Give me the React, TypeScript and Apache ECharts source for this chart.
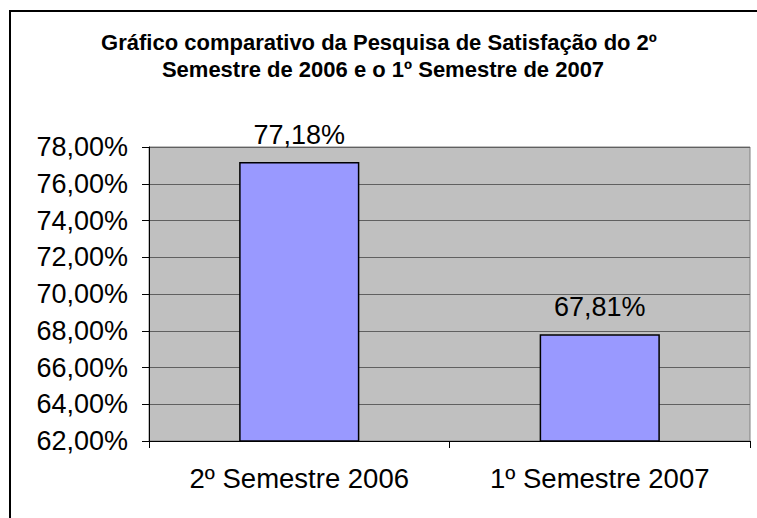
import React, { useEffect, useRef } from "react";
import * as echarts from "echarts";

const categories = ["2º Semestre 2006", "1º Semestre 2007"];
const values = [77.18, 67.81];
const titleLines = [
  "Gráfico comparativo da Pesquisa de Satisfação do 2º",
  "Semestre de 2006 e o 1º Semestre de 2007",
];
const yMin = 62;
const yMax = 78;
const yStep = 2;

const fmt = (v: number) => v.toFixed(2).replace(".", ",") + "%";

export default function App() {
  const ref = useRef<HTMLDivElement>(null);
  useEffect(() => {
    if (!ref.current) return;
    const chart = echarts.init(ref.current, undefined, { renderer: "svg" });
    const font = "'Liberation Sans', Arial, sans-serif";
    chart.setOption({
      animation: false,
      backgroundColor: "#ffffff",
      title: [
        {
          text: titleLines[0],
          left: 379,
          top: 29,
          padding: 0,
          textAlign: "center",
          textStyle: { fontFamily: font, fontWeight: "bold", fontSize: 22, lineHeight: 26, color: "#000" },
        },
        {
          text: titleLines[1],
          left: 383,
          top: 56,
          padding: 0,
          textAlign: "center",
          textStyle: { fontFamily: font, fontWeight: "bold", fontSize: 22, lineHeight: 26, color: "#000" },
        },
      ],
      graphic: [
        {
          type: "rect",
          shape: { x: 10, y: 11, width: 800, height: 600 },
          style: { fill: "none", stroke: "#000", lineWidth: 2 },
          silent: true,
        },
      ],
      grid: {
        left: 149,
        top: 147,
        right: 7,
        bottom: 77,
        show: true,
        backgroundColor: "#C0C0C0",
        borderColor: "#808080",
        borderWidth: 1,
        containLabel: false,
      },
      xAxis: {
        type: "category",
        data: categories,
        boundaryGap: true,
        axisLine: { show: true, lineStyle: { color: "#000", width: 1 } },
        axisTick: { show: true, length: 7, lineStyle: { color: "#000" } },
        axisLabel: { fontFamily: font, fontSize: 27.5, color: "#000", margin: 23 },
        splitLine: { show: false },
      },
      yAxis: {
        type: "value",
        min: yMin,
        max: yMax,
        interval: yStep,
        axisLine: { show: true, lineStyle: { color: "#000", width: 1 } },
        axisTick: { show: true, length: 7, lineStyle: { color: "#000" } },
        axisLabel: { fontFamily: font, fontSize: 27, color: "#000", margin: 21, formatter: (v: number) => fmt(v) },
        splitLine: { show: true, lineStyle: { color: "#606060", width: 1 } },
      },
      series: [
        {
          type: "bar",
          data: values,
          barWidth: "40%",
          itemStyle: { color: "#9999FF", borderColor: "#000", borderWidth: 1.5 },
          label: {
            show: true,
            position: "top",
            distance: 14,
            fontFamily: font,
            fontSize: 27,
            color: "#000",
            formatter: (p: any) => fmt(p.value),
          },
        },
      ],
    });
    return () => chart.dispose();
  }, []);
  return (
    <div
      ref={ref}
      style={{ position: "fixed", left: 0, top: 0, width: 757, height: 518 }}
    />
  );
}
